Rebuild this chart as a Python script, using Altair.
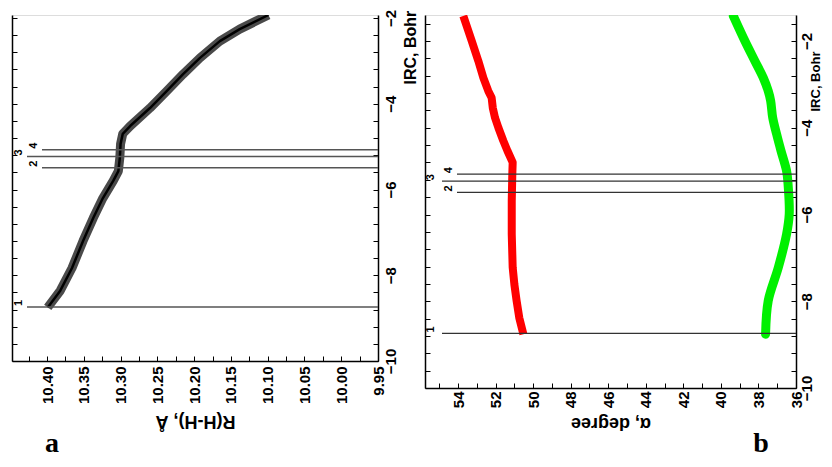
import altair as alt
import pandas as pd

# ---------------- data ----------------
# panel a: R(H-H) vs IRC
irc_a = [-8.75, -8.36, -7.83, -7.20, -6.66, -6.20, -5.80, -5.57, -5.26, -4.94, -4.70,
         -4.52, -4.10, -3.70, -3.31, -2.93, -2.54, -2.26, -1.93]
r_hh = [10.399, 10.382, 10.366, 10.351, 10.337, 10.324, 10.310, 10.303, 10.301, 10.300, 10.297,
        10.287, 10.260, 10.237, 10.215, 10.192, 10.165, 10.138, 10.099]

# panel b: alpha angles vs IRC
irc_red = [-8.76, -8.38, -7.99, -7.61, -7.22, -6.45, -5.69, -5.07, -4.80, -4.53, -4.30,
           -4.00, -3.77, -3.54, -3.31, -3.15, -2.85, -2.46, -2.00, -1.42]
alpha_red = [50.52, 50.74, 50.88, 51.00, 51.09, 51.14, 51.14, 51.11, 51.09, 51.37, 51.59,
             51.85, 52.03, 52.15, 52.21, 52.39, 52.65, 52.92, 53.27, 53.72]
irc_green = [-8.76, -7.99, -7.22, -6.45, -5.99, -5.38, -5.00, -4.53, -4.15, -3.77, -3.38,
             -3.15, -2.85, -2.46, -2.00, -1.42]
alpha_green = [37.62, 37.48, 36.94, 36.50, 36.36, 36.41, 36.50, 36.80, 37.03, 37.24, 37.35,
               37.48, 37.74, 38.19, 38.72, 39.34]

# marked structures
marker_id = ["1", "2", "3", "4"]
marker_irc = [-8.74, -5.49, -5.23, -5.07]

# axis ticks
x_major_a = [9.95, 10.00, 10.05, 10.10, 10.15, 10.20, 10.25, 10.30, 10.35, 10.40]
x_minor_a = [round(9.95 + 0.025 * i, 3) for i in range(20)]
x_major_b = [36, 38, 40, 42, 44, 46, 48, 50, 52, 54]
x_minor_b = list(range(36, 56))
y_major = [-10, -8, -6, -4, -2]
y_minor_a = [round(-10 + 0.4 * i, 1) for i in range(21)]
y_minor_b = [round(-10 + 0.4 * i, 1) for i in range(22)]

FONT = "Liberation Sans"
SERIF = "Liberation Serif"

W_A, H_A = 366, 346
W_B, H_B = 371, 373

df_a = pd.DataFrame({"irc": irc_a, "val": r_hh})
df_red = pd.DataFrame({"irc": irc_red, "val": alpha_red})
df_green = pd.DataFrame({"irc": irc_green, "val": alpha_green})
df_mark = pd.DataFrame({"irc": marker_irc, "id": marker_id})

Y_LABEL_EXPR = "'\u2212' + format(-datum.value, 'd')"


def panel(curves, xdom, ydom, W, H, x_major, x_minor, y_minor, x_fmt, x_title,
          x_lab_pad, x_title_y, y_lab_pad, y_title_x, y_title_y, y_title_size,
          rule_color, rule_w, odd_lab_x, odd_rule_x, even_lab_x, even_rule_x,
          letter, letter_x, letter_y):
    xs = alt.Scale(domain=xdom, reverse=True, nice=False, zero=False)
    ys = alt.Scale(domain=ydom, nice=False, zero=False)

    ax_x_lab = alt.Axis(orient="bottom", values=x_major, labelExpr=x_fmt, ticks=False,
                        domain=True, domainColor="black", domainWidth=1.5, grid=False,
                        labelAngle=270, labelAlign="right", labelBaseline="middle",
                        labelPadding=x_lab_pad, labelFont=FONT, labelFontSize=15,
                        labelFontWeight="bold", labelColor="black", labelFlush=False,
                        labelOverlap=False, title=x_title, titleFont=FONT, titleFontSize=18,
                        titleFontWeight="bold", titleColor="black", titleAngle=180,
                        titleBaseline="bottom", titleAlign="center", titleY=x_title_y)
    ax_x_tick = alt.Axis(orient="top", offset=-H, values=x_minor, labels=False, domain=False,
                         ticks=True, tickSize=5, tickColor="black", tickWidth=1, grid=False,
                         title=None)
    ax_y_lab = alt.Axis(orient="right", values=y_major, labelExpr=Y_LABEL_EXPR, ticks=False,
                        domain=True, domainColor="black", domainWidth=1.5, grid=False,
                        labelAngle=270, labelAlign="center", labelBaseline="top",
                        labelPadding=y_lab_pad, labelFont=FONT, labelFontSize=15,
                        labelFontWeight="bold", labelColor="black", labelFlush=False,
                        labelOverlap=False, title="IRC, Bohr", titleFont=FONT,
                        titleFontSize=y_title_size, titleFontWeight="bold", titleColor="black",
                        titleAngle=270, titleAlign="left", titleBaseline="top",
                        titleX=y_title_x, titleY=y_title_y)
    ax_y_tick_r = alt.Axis(orient="left", offset=-W, values=y_minor, labels=False,
                           domain=False, ticks=True, tickSize=5, tickColor="black",
                           tickWidth=1, grid=False, title=None)
    ax_y_tick_l = alt.Axis(orient="right", offset=-W, values=y_minor, labels=False,
                           domain=True, domainColor="black", domainWidth=1.5, ticks=True,
                           tickSize=5, tickColor="black", tickWidth=1, grid=False, title=None)

    layers = []
    # first curve carries the labelled axes, second the inward ticks
    for i, (df, color, width, cap, interp) in enumerate(curves):
        if i == 0:
            xa, ya = ax_x_lab, ax_y_lab
        elif i == 1:
            xa, ya = ax_x_tick, ax_y_tick_r
        else:
            xa, ya = None, None
        layers.append(
            alt.Chart(df).mark_line(color=color, strokeWidth=width, strokeCap=cap,
                                    strokeJoin="round", interpolate=interp, clip=True).encode(
                x=alt.X("val:Q", scale=xs, axis=xa),
                y=alt.Y("irc:Q", scale=ys, axis=ya),
                order=alt.Order("irc:Q"),
            )
        )

    odd = alt.Chart(df_mark).transform_filter("toNumber(datum.id) % 2 == 1")
    even = alt.Chart(df_mark).transform_filter("toNumber(datum.id) % 2 == 0")
    layers.append(odd.mark_rule(color=rule_color, strokeWidth=rule_w).encode(
        x=alt.value(odd_rule_x), x2=alt.value(W),
        y=alt.Y("irc:Q", scale=ys, axis=ax_y_tick_l)))
    layers.append(even.mark_rule(color=rule_color, strokeWidth=rule_w).encode(
        x=alt.value(even_rule_x), x2=alt.value(W),
        y=alt.Y("irc:Q", scale=ys, axis=None)))
    for src, lx in ((odd, odd_lab_x), (even, even_lab_x)):
        layers.append(src.mark_text(font=FONT, fontSize=11, fontWeight="bold", color="black",
                                    angle=270, align="center", baseline="middle", dx=4).encode(
            x=alt.value(lx), y=alt.Y("irc:Q", scale=ys, axis=None), text="id:N"))
    layers.append(alt.Chart(pd.DataFrame({"t": [letter]})).mark_text(
        font=SERIF, fontSize=28, fontWeight="bold", color="black", align="center",
        baseline="alphabetic").encode(x=alt.value(letter_x), y=alt.value(letter_y), text="t:N"))

    return alt.layer(*layers).resolve_axis(x="independent", y="independent").properties(
        width=W, height=H)


pa = panel(
    curves=[(df_a, "#4a4a4a", 9, "butt", "linear"), (df_a, "#000000", 2.5, "butt", "linear")],
    xdom=[9.95, 10.4476], ydom=[-10, -1.93], W=W_A, H=H_A,
    x_major=x_major_a, x_minor=x_minor_a, y_minor=y_minor_a,
    x_fmt="format(datum.value, '.2f')", x_title="R(H-H), Å",
    x_lab_pad=5, x_title_y=50, y_lab_pad=5, y_title_x=24, y_title_y=69, y_title_size=16,
    rule_color="#555555", rule_w=1.5,
    odd_lab_x=7, odd_rule_x=15, even_lab_x=22, even_rule_x=30,
    letter="a", letter_x=40, letter_y=437)

pb = panel(
    curves=[(df_red, "#ff0000", 8, "butt", "linear"),
            (df_green, "#00f000", 9, "round", "catmull-rom")],
    xdom=[36, 55.76], ydom=[-10, -1.40], W=W_B, H=H_B,
    x_major=x_major_b, x_minor=x_minor_b, y_minor=y_minor_b,
    x_fmt="format(datum.value, 'd')", x_title="α, degree",
    x_lab_pad=3, x_title_y=25, y_lab_pad=3, y_title_x=13, y_title_y=96, y_title_size=13,
    rule_color="#333333", rule_w=1.2,
    odd_lab_x=6, odd_rule_x=17, even_lab_x=24, even_rule_x=32,
    letter="b", letter_x=336, letter_y=437)

chart = alt.hconcat(pa, pb, spacing=47, bounds="flush").properties(
    padding={"left": 3, "top": 0, "right": 0, "bottom": 0}
).configure_view(stroke=None).configure(background="white")

chart.save("out.html", embed_options={"renderer": "svg", "actions": False})
